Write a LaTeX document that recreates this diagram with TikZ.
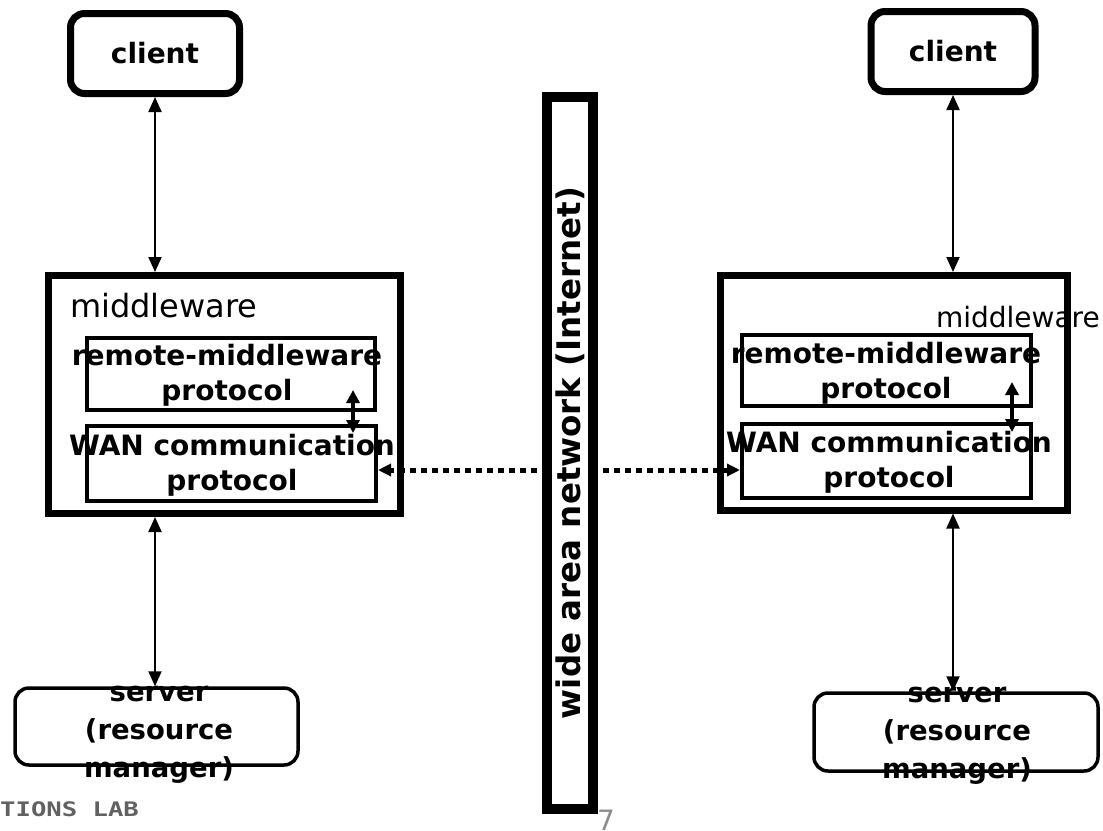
\documentclass[tikz,border=0pt]{standalone}
\usepackage{fontspec}
\setmainfont{DejaVu Sans}
\newfontfamily\labfont{DejaVu Sans Mono}
\usetikzlibrary{arrows.meta}
\begin{document}
\begin{tikzpicture}[x=1pt,y=-1pt,
  clientbox/.style={draw, line width=7pt, rounded corners=14pt, inner sep=0pt},
  serverbox/.style={draw, line width=3.5pt, rounded corners=14pt, inner sep=0pt},
  mwbox/.style={draw, line width=7pt, inner sep=0pt},
  protobox/.style={draw, line width=4pt, inner sep=0pt},
  netbar/.style={draw, line width=10pt, inner sep=0pt},
  lbl/.style={font=\bfseries\fontsize{28}{35}\selectfont, align=center, inner sep=0pt},
  srvlbl/.style={font=\bfseries\fontsize{27.5}{38}\selectfont, align=center, inner sep=0pt},
  link/.style={line width=2pt, {Triangle[length=15pt,width=13pt]}-{Triangle[length=15pt,width=13pt]}},
  innerlink/.style={line width=3.5pt, {Triangle[length=13pt,width=13pt]}-{Triangle[length=13pt,width=13pt]}},
  netlink/.style={line width=5pt, dash pattern=on 6pt off 5pt, -{Triangle[length=13pt,width=12pt]}}
]
\useasboundingbox (0,0) rectangle (1103,830);

% ---- left site ----
\node[clientbox, minimum width=169pt, minimum height=80pt] (lclient) at (155,53.5) {};
\node[lbl] (lclientT) at (lclient.center) {client};
\node[mwbox, minimum width=351.5pt, minimum height=238pt] (lmw) at (224.25,394.5) {};
\node[anchor=base west, inner sep=0pt, font=\fontsize{32}{38}\selectfont] (lmwT) at (70,317) {middleware};
\node[protobox, minimum width=288pt, minimum height=72pt] (lrem) at (231,374) {};
\node[lbl] (lremT) at (227,375) {remote-middleware\\protocol};
\node[protobox, minimum width=289pt, minimum height=75pt] (lwan) at (231.5,463.5) {};
\node[lbl] (lwanT) at (232,465) {WAN communication\\protocol};
\node[serverbox, minimum width=283pt, minimum height=77pt] (lsrv) at (156.5,726.5) {};
\node[srvlbl] (lsrvT) at (159,735) {server\\(resource\\manager)};

% ---- right site ----
\node[clientbox, minimum width=164pt, minimum height=80pt] (rclient) at (953,51.5) {};
\node[lbl] (rclientT) at (rclient.center) {client};
\node[mwbox, minimum width=347pt, minimum height=234.5pt] (rmw) at (894,392.75) {};
\node[anchor=base east, inner sep=0pt, font=\fontsize{28}{34}\selectfont] (rmwT) at (1100,327) {middleware};
\node[protobox, minimum width=289pt, minimum height=71pt] (rrem) at (886.5,370.5) {};
\node[lbl] (rremT) at (886,373.5) {remote-middleware\\protocol};
\node[protobox, minimum width=289pt, minimum height=74pt] (rwan) at (886.5,461) {};
\node[lbl] (rwanT) at (889,462.5) {WAN communication\\protocol};
\node[serverbox, minimum width=284pt, minimum height=78pt] (rsrv) at (956,732) {};
\node[srvlbl] (rsrvT) at (957,736) {server\\(resource\\manager)};

% ---- wide area network ----
\node[netbar, minimum width=46pt, minimum height=712pt] (net) at (570,453) {};
\node[rotate=90, inner sep=0pt, font=\bfseries\fontsize{32.5}{36}\selectfont] (netT) at (570,453) {wide area network (Internet)};

% ---- footer ----
\node[anchor=west, inner sep=0pt, text=black!62] (lab) at (0,809)
  {\labfont\bfseries\fontsize{20}{20}\selectfont\scalebox{1.28}[1]{TIONS LAB}};
\node[anchor=base west, inner sep=0pt, text=black!45, font=\fontsize{28}{28}\selectfont] (pg) at (597,830) {7};

% ---- connectors ----
\draw[link] (lclient.south) -- (lclient.south |- lmw.north);
\draw[link] (lclient.south |- lmw.south) -- (lclient.south |- lsrv.north);
\draw[link] (rclient.south) -- (rclient.south |- rmw.north);
\draw[link] (rclient.south |- rmw.south) -- (rclient.south |- rsrv.north);

\coordinate (lup) at (353,390);
\coordinate (ldown) at (353,433);
\coordinate (rup) at (1012,382);
\coordinate (rdown) at (1012,432);
\draw[innerlink] (lup) -- (ldown);
\draw[innerlink] (rup) -- (rdown);

\coordinate (lport) at (378,470);
\coordinate (rport) at (740,470);
\draw[netlink, shorten <=5pt] (net.west |- lport) -- (lport);
\draw[netlink, shorten <=5pt] (net.east |- rport) -- (rport);
\end{tikzpicture}
\end{document}
